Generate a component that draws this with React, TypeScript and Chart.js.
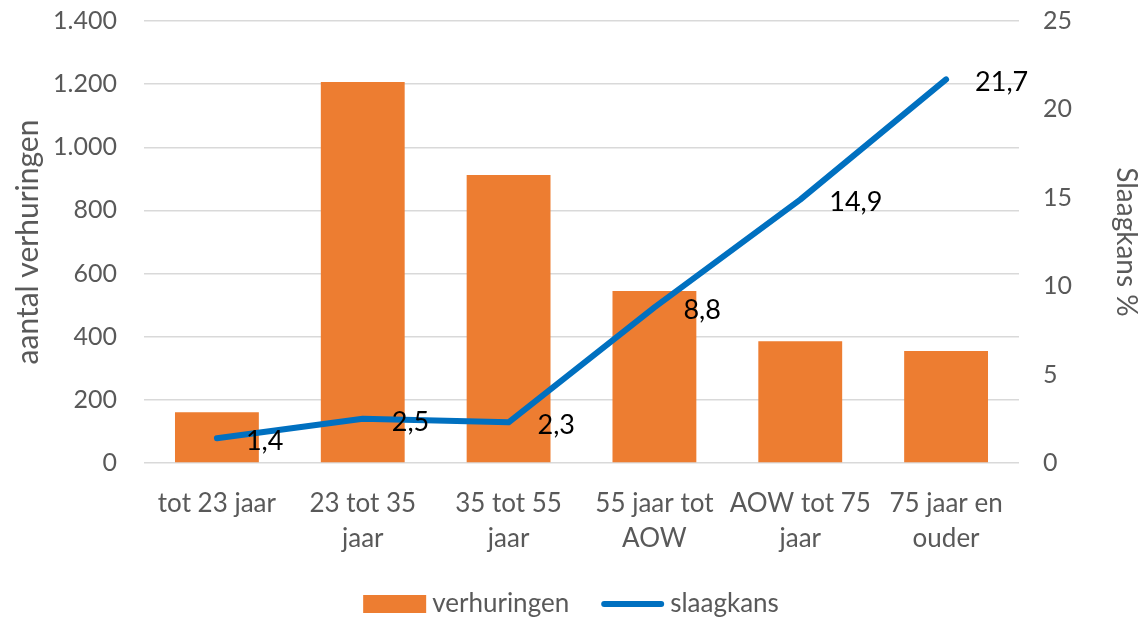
import React, { useEffect, useRef } from "react";
import { Chart, registerables } from "chart.js";

Chart.register(...registerables);

const categories: (string | string[])[] = [
  "tot 23 jaar",
  ["23 tot 35", "jaar"],
  ["35 tot 55", "jaar"],
  ["55 jaar tot", "AOW"],
  ["AOW tot 75", "jaar"],
  ["75 jaar en", "ouder"],
];
const verhuringen = [161, 1207, 912, 545, 386, 355];
const slaagkans = [1.4, 2.5, 2.3, 8.8, 14.9, 21.7];
const leftTicks = [0, 200, 400, 600, 800, 1000, 1200, 1400];
const rightTicks = [0, 5, 10, 15, 20, 25];

const FONT = "Lato, 'Noto Sans', sans-serif";
const GREY = "#595959";

function fmtThousands(v: number): string {
  return String(Math.round(v)).replace(/\B(?=(\d{3})+(?!\d))/g, ".");
}
function fmtDecimal(v: number): string {
  return v.toFixed(1).replace(".", ",");
}

const lineLabels = {
  id: "lineLabels",
  afterDatasetsDraw(chart: any) {
    const meta = chart.getDatasetMeta(1);
    const ctx = chart.ctx;
    ctx.save();
    ctx.font = `27px ${FONT}`;
    ctx.fillStyle = "#000000";
    ctx.textAlign = "left";
    ctx.textBaseline = "middle";
    meta.data.forEach((pt: any, i: number) => {
      ctx.fillText(fmtDecimal(slaagkans[i]), pt.x + 29, pt.y + 3);
    });
    ctx.restore();
  },
};

const customLegend = {
  id: "customLegend",
  afterDraw(chart: any) {
    const ctx = chart.ctx;
    const ds = chart.data.datasets;
    ctx.save();
    ctx.font = `26px ${FONT}`;
    ctx.textBaseline = "middle";
    ctx.textAlign = "left";
    const markW = 63;
    const gap = 6;
    const itemGap = 32;
    const w0 = ctx.measureText(ds[0].label).width;
    const w1 = ctx.measureText(ds[1].label).width;
    const total = markW + gap + w0 + itemGap + markW + gap + w1;
    const cy = 604;
    let x = 571 - total / 2;
    ctx.fillStyle = ds[0].backgroundColor;
    ctx.fillRect(x, cy - 9, markW, 18);
    x += markW + gap;
    ctx.fillStyle = GREY;
    ctx.fillText(ds[0].label, x, cy);
    x += w0 + itemGap;
    ctx.strokeStyle = ds[1].borderColor;
    ctx.lineWidth = 6;
    ctx.lineCap = "round";
    ctx.beginPath();
    ctx.moveTo(x + 3, cy);
    ctx.lineTo(x + markW - 3, cy);
    ctx.stroke();
    x += markW + gap;
    ctx.fillText(ds[1].label, x, cy);
    ctx.restore();
  },
};

export default function App() {
  const ref = useRef<HTMLCanvasElement | null>(null);
  useEffect(() => {
    document.body.style.margin = "0";
    const chart = new Chart(ref.current as HTMLCanvasElement, {
      type: "bar",
      data: {
        labels: categories as any,
        datasets: [
          {
            type: "bar",
            label: "verhuringen",
            data: verhuringen,
            backgroundColor: "#ED7D31",
            borderWidth: 0,
            yAxisID: "y",
            categoryPercentage: 1,
            barPercentage: 0.575,
            order: 2,
          } as any,
          {
            type: "line",
            label: "slaagkans",
            data: slaagkans,
            borderColor: "#0070C0",
            backgroundColor: "#0070C0",
            borderWidth: 6,
            borderCapStyle: "round",
            borderJoinStyle: "round",
            pointRadius: 0,
            pointHoverRadius: 0,
            tension: 0,
            yAxisID: "y1",
            order: 1,
          } as any,
        ],
      },
      options: {
        responsive: false,
        animation: false,
        layout: { padding: { top: 21, left: 0, right: 0, bottom: 44 } },
        plugins: {
          tooltip: { enabled: false },
          legend: { display: false },
        },
        scales: {
          x: {
            grid: { display: false },
            border: { display: false },
            ticks: {
              font: { family: FONT, size: 26, lineHeight: 1.35 },
              color: GREY,
              padding: 15,
              maxRotation: 0,
              autoSkip: false,
            },
            afterFit(scale: any) {
              scale.height = 112;
            },
          },
          y: {
            position: "left",
            min: 0,
            max: 1400,
            afterBuildTicks(scale: any) {
              scale.ticks = leftTicks.map((v) => ({ value: v }));
            },
            grid: { color: "#D9D9D9", lineWidth: 1.5, drawTicks: false },
            border: { display: false },
            ticks: {
              font: { family: FONT, size: 25 },
              color: GREY,
              padding: 27,
              callback: (v: any) => fmtThousands(Number(v)),
            },
            title: {
              display: true,
              text: "aantal verhuringen",
              font: { family: FONT, size: 30 },
              color: GREY,
              padding: { top: 10, bottom: 0 },
            },
            afterFit(scale: any) {
              scale.width = 144;
              scale.paddingTop = 0;
              scale.paddingBottom = 0;
            },
          },
          y1: {
            position: "right",
            min: 0,
            max: 25,
            afterBuildTicks(scale: any) {
              scale.ticks = rightTicks.map((v) => ({ value: v }));
            },
            grid: { display: false, drawTicks: false },
            border: { display: false },
            ticks: {
              font: { family: FONT, size: 25 },
              color: GREY,
              padding: 24,
              callback: (v: any) => String(v),
            },
            title: {
              display: true,
              text: "Slaagkans %",
              font: { family: FONT, size: 28 },
              color: GREY,
              padding: 0,
            },
            afterFit(scale: any) {
              scale.width = 124;
              scale.paddingTop = 0;
              scale.paddingBottom = 0;
            },
          },
        },
      },
      plugins: [lineLabels, customLegend],
    });
    return () => chart.destroy();
  }, []);
  return <canvas ref={ref} width={1143} height={619} style={{ display: "block" }} />;
}
